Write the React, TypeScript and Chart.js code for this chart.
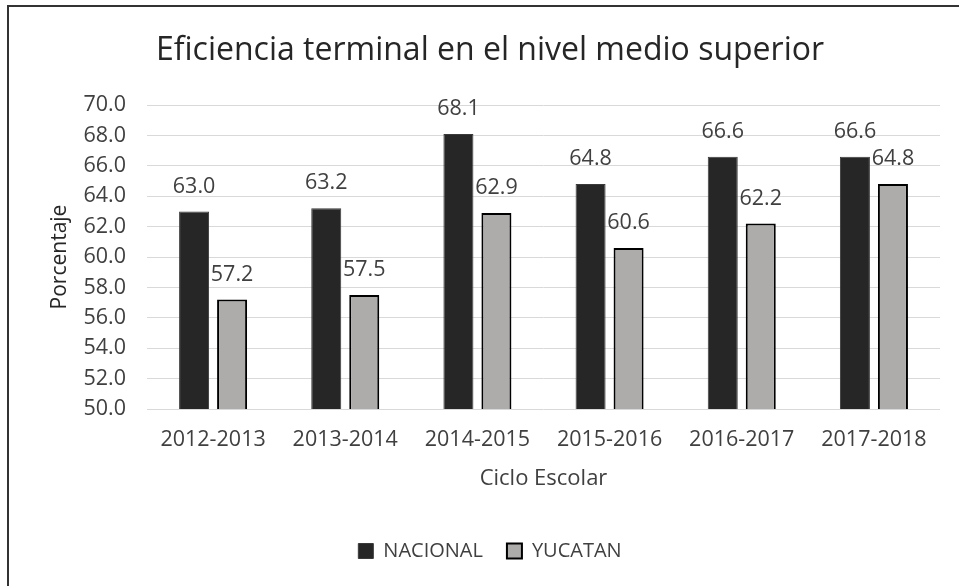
import React, { useEffect, useRef } from "react";
import { Chart, registerables } from "chart.js";

Chart.register(...registerables);

const categories = ["2012-2013", "2013-2014", "2014-2015", "2015-2016", "2016-2017", "2017-2018"];
const nacional = [63.0, 63.2, 68.1, 64.8, 66.6, 66.6];
const yucatan = [57.2, 57.5, 62.9, 60.6, 62.2, 64.8];
const seriesNames = ["NACIONAL", "YUCATAN"];
const yMin = 50;
const yMax = 70;
const yStep = 2;
const titleText = "Eficiencia terminal en el nivel medio superior";
const yTitle = "Porcentaje";
const xTitle = "Ciclo Escolar";

const FONT = "'Open Sans', sans-serif";
const TEXT = "#404040";

const dataLabels = {
  id: "dataLabels",
  afterDatasetsDraw(chart: any) {
    const ctx = chart.ctx;
    ctx.save();
    ctx.font = `21.5px ${FONT}`;
    ctx.fillStyle = TEXT;
    ctx.textAlign = "center";
    ctx.textBaseline = "middle";
    chart.data.datasets.forEach((ds: any, i: number) => {
      const meta = chart.getDatasetMeta(i);
      meta.data.forEach((el: any, j: number) => {
        ctx.fillText(Number(ds.data[j]).toFixed(1), el.x, el.y - 25);
      });
    });
    ctx.restore();
  },
};

export default function App() {
  const ref = useRef<HTMLCanvasElement | null>(null);
  useEffect(() => {
    if (!ref.current) return;
    const chart = new Chart(ref.current, {
      type: "bar",
      data: {
        labels: categories,
        datasets: [
          {
            label: seriesNames[0],
            data: nacional,
            backgroundColor: "#262626",
            borderColor: "#3a3a3a",
            borderWidth: 1,
            categoryPercentage: 0.575,
            barPercentage: 0.79,
          },
          {
            label: seriesNames[1],
            data: yucatan,
            backgroundColor: "#aeabab",
            borderColor: "#000000",
            borderWidth: 2,
            categoryPercentage: 0.575,
            barPercentage: 0.79,
          },
        ],
      },
      options: {
        responsive: false,
        animation: false,
        layout: { padding: { left: 40, right: 44, top: 0, bottom: 29 } },
        plugins: {
          title: {
            display: true,
            text: titleText,
            color: "#262626",
            font: { family: FONT, size: 32, weight: "normal" },
            padding: { top: 32, bottom: 34.6 },
          },
          legend: {
            position: "bottom",
            labels: {
              color: TEXT,
              font: { family: FONT, size: 20 },
              boxWidth: 15,
              boxHeight: 15,
              padding: 24,
            },
          },
          tooltip: { enabled: false },
        },
        scales: {
          x: {
            grid: { display: false, drawTicks: false },
            border: { display: false },
            ticks: { color: TEXT, font: { family: FONT, size: 21.5 }, padding: 18 },
            title: {
              display: true,
              text: xTitle,
              color: TEXT,
              font: { family: FONT, size: 22 },
              padding: { top: 0, bottom: 25 },
            },
            afterFit: (s: any) => {
              s.height = 108;
            },
          },
          y: {
            min: yMin,
            max: yMax,
            grid: { color: "#d9d9d9", drawTicks: false },
            border: { display: false },
            ticks: {
              stepSize: yStep,
              color: TEXT,
              font: { family: FONT, size: 21.5 },
              padding: 21,
              callback: (v: any) => Number(v).toFixed(1),
            },
            title: {
              display: true,
              text: yTitle,
              color: "#262626",
              font: { family: FONT, size: 21 },
              padding: { top: 7, bottom: 0 },
            },
            afterFit: (s: any) => {
              s.width = 107;
            },
          },
        },
      },
      plugins: [dataLabels],
    } as any);
    return () => chart.destroy();
  }, []);

  return (
    <div
      style={{
        position: "fixed",
        left: 0,
        top: 0,
        width: 959,
        height: 586,
        overflow: "hidden",
        background: "#ffffff",
      }}
    >
      <canvas ref={ref} width={984} height={600} style={{ position: "absolute", left: 0, top: 0, width: 984, height: 600 }} />
      <div
        style={{
          position: "absolute",
          left: 7,
          top: 5,
          width: 1200,
          height: 1200,
          borderTop: "2px solid #333333",
          borderLeft: "2px solid #333333",
          pointerEvents: "none",
        }}
      />
    </div>
  );
}
